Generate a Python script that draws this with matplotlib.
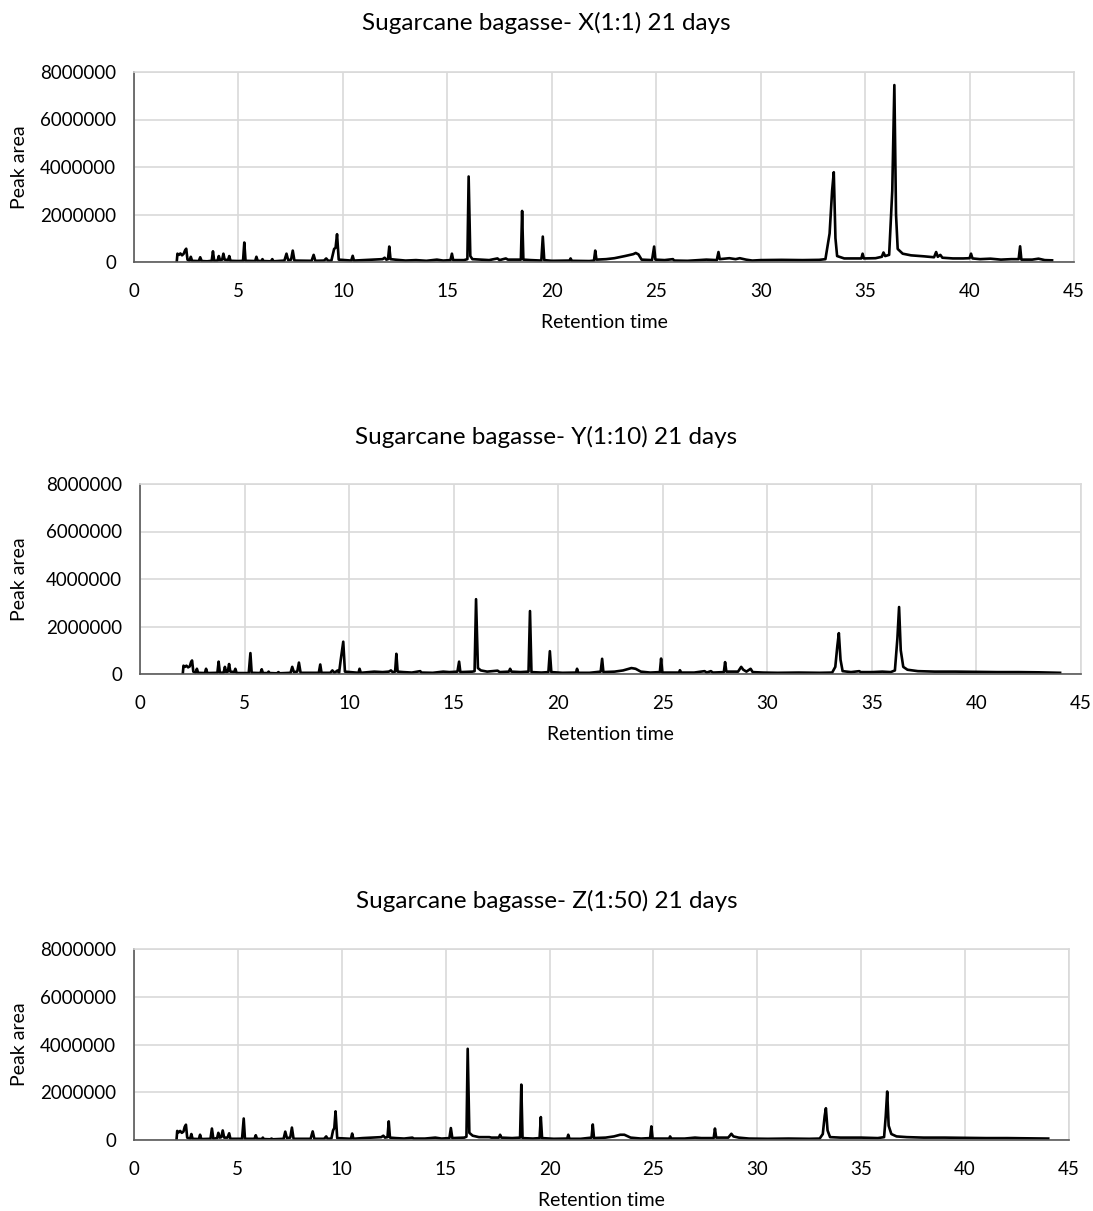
import numpy as np
import matplotlib
matplotlib.use('Agg')
import matplotlib.pyplot as plt

# 字体设置 (Calibri 不可用, 用 Lato 代替)
plt.rcParams['font.family'] = ['Lato', 'DejaVu Sans']

# 数据 (Peak area 以百万为单位, 从图中估读)
rt_x = [2.05, 2.08, 2.15, 2.22, 2.30, 2.38, 2.45, 2.50, 2.56, 2.65, 2.72, 2.78, 3.10, 3.17, 3.24, 3.50,
        3.72, 3.78, 3.84, 4.00, 4.06, 4.12, 4.22, 4.28, 4.34, 4.50, 4.56, 4.62, 5.00, 5.22, 5.28, 5.34,
        5.80, 5.86, 5.92, 6.10, 6.15, 6.20, 6.55, 6.62, 6.68, 7.20, 7.30, 7.38, 7.52, 7.60, 7.68, 8.50,
        8.60, 8.68, 9.10, 9.20, 9.30, 9.45, 9.58, 9.65, 9.72, 9.80, 10.40, 10.47, 10.53, 11.00, 11.50,
        11.90, 12.00, 12.08, 12.16, 12.22, 12.28, 12.50, 13.00, 13.50, 14.00, 14.50, 14.80, 15.15, 15.22,
        15.28, 15.80, 15.96, 16.02, 16.10, 16.20, 16.60, 17.00, 17.40, 17.50, 17.80, 17.90, 18.40, 18.52,
        18.58, 18.64, 19.00, 19.50, 19.57, 19.64, 20.00, 20.85, 20.90, 20.96, 21.80, 22.02, 22.08, 22.14,
        22.60, 23.00, 23.50, 23.90, 24.02, 24.15, 24.30, 24.80, 24.90, 24.96, 25.40, 25.80, 25.86, 26.50,
        27.00, 27.40, 27.90, 27.98, 28.04, 28.50, 28.80, 29.00, 29.30, 29.60, 30.00, 31.00, 32.00, 32.80,
        33.10, 33.30, 33.42, 33.50, 33.58, 33.66, 34.00, 34.50, 34.82, 34.88, 34.94, 35.50, 35.80, 35.88,
        35.96, 36.15, 36.30, 36.40, 36.48, 36.56, 36.80, 37.20, 37.80, 38.30, 38.40, 38.48, 38.60, 38.70,
        39.20, 39.70, 40.00, 40.07, 40.14, 40.50, 41.00, 41.50, 42.00, 42.35, 42.42, 42.48, 43.00, 43.30,
        43.60, 43.95]
area_x = [0.05, 0.35, 0.30, 0.36, 0.28, 0.35, 0.50, 0.56, 0.10, 0.05, 0.22, 0.05, 0.04, 0.20, 0.04, 0.03,
          0.05, 0.45, 0.05, 0.06, 0.25, 0.08, 0.10, 0.35, 0.10, 0.08, 0.25, 0.05, 0.04, 0.05, 0.82, 0.05,
          0.04, 0.22, 0.05, 0.04, 0.12, 0.04, 0.03, 0.12, 0.03, 0.06, 0.35, 0.08, 0.10, 0.48, 0.06, 0.05,
          0.30, 0.05, 0.06, 0.15, 0.05, 0.06, 0.55, 0.60, 1.17, 0.10, 0.06, 0.26, 0.06, 0.08, 0.10,
          0.12, 0.18, 0.10, 0.12, 0.65, 0.12, 0.10, 0.06, 0.08, 0.05, 0.10, 0.06, 0.08, 0.35,
          0.08, 0.08, 0.12, 3.60, 0.25, 0.12, 0.10, 0.08, 0.15, 0.08, 0.15, 0.10, 0.10, 0.10,
          2.15, 0.10, 0.08, 0.06, 1.07, 0.08, 0.05, 0.06, 0.15, 0.05, 0.04, 0.06, 0.48, 0.10,
          0.12, 0.16, 0.25, 0.33, 0.38, 0.32, 0.10, 0.08, 0.65, 0.10, 0.08, 0.12, 0.06, 0.05,
          0.08, 0.10, 0.08, 0.42, 0.12, 0.16, 0.12, 0.16, 0.10, 0.06, 0.08, 0.09, 0.08, 0.09,
          0.12, 1.20, 3.00, 3.78, 1.00, 0.25, 0.15, 0.15, 0.15, 0.35, 0.15, 0.16, 0.22, 0.40,
          0.25, 0.30, 3.00, 7.45, 2.00, 0.55, 0.35, 0.28, 0.24, 0.20, 0.42, 0.22, 0.30, 0.18,
          0.15, 0.15, 0.16, 0.35, 0.15, 0.12, 0.14, 0.10, 0.12, 0.12, 0.66, 0.10, 0.10, 0.14,
          0.08, 0.07]

rt_y = [2.05, 2.08, 2.15, 2.22, 2.30, 2.38, 2.44, 2.49, 2.55, 2.66, 2.72, 2.78, 3.10, 3.16, 3.22, 3.70,
        3.76, 3.82, 4.00, 4.06, 4.12, 4.20, 4.26, 4.32, 4.50, 4.56, 4.62, 5.20, 5.28, 5.34, 5.76, 5.82,
        5.88, 6.10, 6.15, 6.20, 6.55, 6.62, 6.68, 7.20, 7.28, 7.36, 7.52, 7.60, 7.68, 8.55, 8.62, 8.68,
        9.10, 9.20, 9.30, 9.45, 9.52, 9.60, 9.72, 9.80, 10.45, 10.50, 10.56, 11.20, 11.60, 11.90, 12.00,
        12.08, 12.20, 12.26, 12.32, 12.60, 13.00, 13.40, 13.46, 14.00, 14.50, 14.80, 15.18, 15.26, 15.32,
        15.90, 16.00, 16.07, 16.16, 16.30, 16.60, 17.10, 17.20, 17.64, 17.70, 17.76, 18.20, 18.58, 18.65,
        18.72, 19.20, 19.53, 19.60, 19.67, 20.20, 20.85, 20.90, 20.96, 21.50, 22.03, 22.10, 22.16, 22.70,
        23.10, 23.50, 23.70, 23.95, 24.40, 24.86, 24.92, 24.98, 25.50, 25.78, 25.82, 25.88, 26.50, 27.00,
        27.10, 27.30, 27.40, 27.92, 27.98, 28.04, 28.60, 28.75, 28.85, 29.00, 29.20, 29.30, 29.80, 30.50,
        31.50, 32.50, 33.10, 33.25, 33.35, 33.42, 33.50, 33.60, 34.00, 34.40, 34.46, 35.00, 35.50, 35.90,
        36.10, 36.22, 36.30, 36.38, 36.50, 36.70, 37.20, 38.00, 39.00, 40.00, 41.00, 42.00, 43.00, 44.00]
area_y = [0.05, 0.35, 0.30, 0.35, 0.28, 0.32, 0.50, 0.57, 0.10, 0.05, 0.22, 0.05, 0.04, 0.22, 0.04, 0.05,
          0.52, 0.05, 0.06, 0.30, 0.08, 0.10, 0.42, 0.10, 0.08, 0.22, 0.04, 0.04, 0.88, 0.05, 0.04, 0.20,
          0.04, 0.04, 0.10, 0.04, 0.03, 0.08, 0.03, 0.05, 0.30, 0.08, 0.10, 0.48, 0.05, 0.05, 0.40, 0.05,
          0.05, 0.15, 0.05, 0.15, 0.05, 0.60, 1.36, 0.10, 0.05, 0.22, 0.05, 0.10, 0.08, 0.10, 0.15,
          0.08, 0.10, 0.85, 0.10, 0.08, 0.06, 0.12, 0.06, 0.05, 0.10, 0.08, 0.10, 0.52, 0.08,
          0.10, 0.12, 3.15, 0.25, 0.15, 0.10, 0.14, 0.08, 0.10, 0.22, 0.10, 0.08, 0.10, 2.65,
          0.08, 0.06, 0.08, 0.96, 0.08, 0.05, 0.06, 0.22, 0.05, 0.05, 0.10, 0.64, 0.08, 0.10,
          0.15, 0.25, 0.22, 0.10, 0.06, 0.08, 0.65, 0.06, 0.06, 0.06, 0.16, 0.06, 0.06, 0.12,
          0.06, 0.12, 0.06, 0.08, 0.50, 0.10, 0.10, 0.30, 0.18, 0.10, 0.22, 0.08, 0.06, 0.05,
          0.06, 0.05, 0.06, 0.30, 1.20, 1.72, 0.60, 0.12, 0.08, 0.12, 0.08, 0.08, 0.10, 0.08,
          0.15, 1.50, 2.82, 1.00, 0.30, 0.18, 0.12, 0.10, 0.10, 0.09, 0.08, 0.08, 0.07, 0.05]

rt_z = [2.05, 2.08, 2.15, 2.22, 2.30, 2.38, 2.44, 2.50, 2.56, 2.70, 2.76, 2.82, 3.12, 3.18, 3.24, 3.68,
        3.75, 3.82, 4.00, 4.06, 4.12, 4.20, 4.27, 4.34, 4.50, 4.58, 4.64, 5.20, 5.28, 5.34, 5.80, 5.86,
        5.92, 6.15, 6.20, 6.25, 6.55, 6.62, 6.68, 7.20, 7.28, 7.36, 7.52, 7.60, 7.68, 8.50, 8.60, 8.68,
        9.15, 9.25, 9.32, 9.50, 9.58, 9.64, 9.70, 9.78, 10.44, 10.50, 10.56, 11.00, 11.50, 11.90, 12.00,
        12.08, 12.20, 12.26, 12.32, 12.60, 13.00, 13.40, 13.46, 14.00, 14.50, 14.80, 15.18, 15.25, 15.32,
        15.90, 16.00, 16.06, 16.14, 16.30, 16.60, 17.10, 17.20, 17.56, 17.62, 17.68, 18.20, 18.58, 18.64,
        18.70, 19.20, 19.52, 19.58, 19.64, 20.20, 20.85, 20.90, 20.96, 21.50, 22.02, 22.08, 22.14, 22.70,
        23.10, 23.40, 23.60, 23.90, 24.40, 24.84, 24.90, 24.96, 25.50, 25.76, 25.80, 25.86, 26.50, 27.00,
        27.30, 27.90, 27.96, 28.02, 28.60, 28.75, 28.85, 29.10, 29.60, 30.50, 31.50, 32.50, 33.00, 33.15,
        33.24, 33.30, 33.38, 33.50, 34.00, 35.00, 35.80, 36.10, 36.18, 36.25, 36.32, 36.45, 36.70, 37.20,
        38.00, 39.00, 40.00, 41.00, 42.00, 43.00, 44.00]
area_z = [0.05, 0.38, 0.32, 0.38, 0.30, 0.35, 0.55, 0.64, 0.10, 0.05, 0.25, 0.05, 0.04, 0.22, 0.04, 0.05,
          0.48, 0.05, 0.08, 0.30, 0.10, 0.12, 0.40, 0.10, 0.10, 0.28, 0.05, 0.05, 0.90, 0.05, 0.05, 0.20,
          0.05, 0.04, 0.10, 0.04, 0.03, 0.06, 0.03, 0.05, 0.35, 0.08, 0.10, 0.52, 0.05, 0.05, 0.36, 0.05,
          0.05, 0.15, 0.05, 0.06, 0.40, 0.50, 1.20, 0.08, 0.05, 0.27, 0.05, 0.08, 0.10, 0.12, 0.18,
          0.10, 0.12, 0.78, 0.10, 0.08, 0.06, 0.10, 0.06, 0.06, 0.10, 0.06, 0.08, 0.50, 0.08,
          0.10, 0.14, 3.82, 0.30, 0.18, 0.12, 0.12, 0.10, 0.10, 0.22, 0.10, 0.08, 0.10, 2.32,
          0.08, 0.06, 0.08, 0.96, 0.08, 0.05, 0.06, 0.22, 0.05, 0.05, 0.10, 0.65, 0.08, 0.10,
          0.15, 0.22, 0.22, 0.10, 0.06, 0.08, 0.57, 0.06, 0.06, 0.06, 0.15, 0.06, 0.06, 0.10,
          0.08, 0.08, 0.48, 0.10, 0.10, 0.26, 0.15, 0.10, 0.06, 0.05, 0.06, 0.05, 0.06, 0.25,
          1.00, 1.33, 0.40, 0.12, 0.10, 0.10, 0.08, 0.12, 1.00, 2.03, 0.60, 0.25, 0.15, 0.12,
          0.10, 0.10, 0.09, 0.08, 0.08, 0.07, 0.06]

titles = ['Sugarcane bagasse- X(1:1) 21 days',
          'Sugarcane bagasse- Y(1:10) 21 days',
          'Sugarcane bagasse- Z(1:50) 21 days']
x_ticks = [0, 5, 10, 15, 20, 25, 30, 35, 40, 45]
y_ticks = [0, 2000000, 4000000, 6000000, 8000000]

W, H = 1093, 1211
fig = plt.figure(figsize=(W / 100, H / 100), dpi=100)

# 每个子图的像素位置: left, right, top, bottom, 标题 y
boxes = [(134, 1074, 72, 262, 23),
         (140, 1081, 484, 674, 437),
         (134, 1069, 949, 1140, 901)]
series = [(rt_x, area_x), (rt_y, area_y), (rt_z, area_z)]


def paint_panel(box, rt, area, title):
    l, r, t, b, ty = box
    ax = fig.add_axes([l / W, 1 - b / H, (r - l) / W, (b - t) / H])
    ax.plot(rt, np.array(area) * 1e6, color='black', linewidth=1.9, solid_joinstyle='round')
    ax.set_xlim(0, 45)
    ax.set_ylim(0, 8000000)
    ax.set_xticks(x_ticks)
    ax.set_yticks(y_ticks)
    ax.set_yticklabels([str(v) for v in y_ticks])
    ax.grid(True, color='#d9d9d9', linewidth=1.2)
    ax.set_axisbelow(True)
    ax.tick_params(length=0, labelsize=13.5, pad=15)
    ax.tick_params(axis='y', pad=13)
    for s in ['top', 'right']:
        ax.spines[s].set_color('#d9d9d9')
        ax.spines[s].set_linewidth(1.2)
    for s in ['left', 'bottom']:
        ax.spines[s].set_color('#595959')
        ax.spines[s].set_linewidth(1.2)
    ax.set_xlabel('Retention time', fontsize=14, labelpad=10)
    ax.set_ylabel('Peak area', fontsize=14)
    ax.yaxis.set_label_coords(-(l - 28) / (r - l), 0.5)
    fig.text(0.5, 1 - ty / H, title, ha='center', va='center', fontsize=17.5)


for box, (rt, area), title in zip(boxes, series, titles):
    paint_panel(box, rt, area, title)

fig.savefig('out.png', dpi=100)
